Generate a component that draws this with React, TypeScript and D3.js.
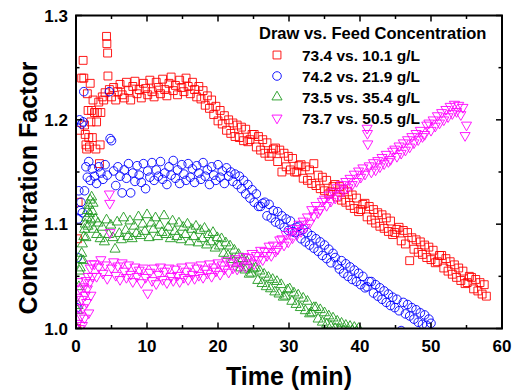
import React from 'react';
import * as d3 from 'd3';

// concentration factor vs time
type Pt = [number, number];

const X_TICKS = [0, 10, 20, 30, 40, 50, 60];
const Y_TICKS = [1.0, 1.1, 1.2, 1.3];
const LEGEND_TITLE = 'Draw vs. Feed Concentration';
const LABELS = ['73.4 vs. 10.1 g/L', '74.2 vs. 21.9 g/L', '73.5 vs. 35.4 g/L', '73.7 vs. 50.5 g/L'];

const red: Pt[] = [
  [0.1,1.0],[0.2,1.086],[0.3,1.121],[0.5,1.19],[0.8,1.24],[1.0,1.257],[1.1,1.24],[1.2,1.195],[1.3,1.186],[1.4,1.176],
  [1.5,1.172],[1.6,1.225],[1.7,1.209],[1.8,1.183],[1.9,1.174],[2.0,1.235],[2.1,1.198],[2.2,1.209],[2.3,1.183],[2.4,1.219],
  [2.6,1.207],[2.8,1.172],[2.9,1.198],[3.0,1.207],[3.2,1.217],[3.3,1.158],[3.4,1.176],[3.5,1.207],[3.7,1.222],[3.9,1.219],
  [4.1,1.226],[4.3,1.28],[4.35,1.273],[4.45,1.264],[4.5,1.242],[4.7,1.229],
  [5.0,1.222],[5.3,1.231],[5.6,1.219],[5.9,1.227],[6.2,1.234],[6.5,1.224],[6.8,1.221],[7.1,1.236],[7.4,1.228],[7.7,1.219],
  [8.0,1.232],[8.3,1.237],[8.6,1.225],[8.9,1.229],[9.2,1.221],[9.5,1.235],[9.8,1.23],[10.1,1.224],[10.4,1.238],[10.7,1.227],
  [11.0,1.222],[11.3,1.236],[11.6,1.231],[11.9,1.225],[12.2,1.239],[12.5,1.229],[12.8,1.223],[13.1,1.235],[13.4,1.241],[13.7,1.228],
  [14.0,1.233],[14.3,1.224],[14.6,1.238],[14.9,1.231],[15.2,1.227],[15.5,1.24],[15.8,1.232],[16.1,1.225],[16.4,1.236],[16.7,1.229],
  [17.0,1.222],[17.3,1.232],[17.6,1.22],[17.9,1.228],[18.2,1.214],[18.5,1.223],[18.8,1.211],[19.1,1.219],[19.4,1.205],[19.7,1.213],
  [20.0,1.199],[20.3,1.209],[20.6,1.196],[20.9,1.204],[21.2,1.19],[21.5,1.2],[21.8,1.187],[22.1,1.197],[22.4,1.184],[22.7,1.195],
  [23.0,1.183],[23.3,1.193],[23.6,1.18],[23.9,1.191],[24.2,1.179],[24.5,1.181],[24.8,1.186],[25.1,1.186],[25.4,1.174],[25.7,1.184],
  [26.0,1.171],[26.3,1.181],[26.6,1.168],[26.9,1.178],[27.2,1.165],[27.5,1.168],[27.8,1.172],[28.1,1.173],[28.4,1.16],[28.7,1.171],
  [29.0,1.15],[29.3,1.168],[29.6,1.155],[29.9,1.165],[30.2,1.152],[30.5,1.163],[30.8,1.15],[31.1,1.15],[31.4,1.156],[31.7,1.157],
  [32.0,1.144],[32.3,1.155],[32.6,1.142],[32.9,1.152],[33.2,1.139],[33.5,1.158],[33.8,1.137],[34.1,1.147],[34.4,1.134],[34.7,1.145],
  [35.0,1.132],[35.3,1.142],[35.6,1.129],[35.9,1.131],[36.2,1.136],[36.5,1.138],[36.8,1.126],[37.1,1.136],[37.4,1.123],[37.7,1.133],
  [38.0,1.121],[38.3,1.131],[38.6,1.118],[38.9,1.128],[39.2,1.115],[39.5,1.125],[39.8,1.112],[40.1,1.114],[40.4,1.119],[40.7,1.12],
  [41.0,1.107],[41.3,1.117],[41.6,1.104],[41.9,1.114],[42.2,1.101],[42.5,1.111],[42.8,1.098],[43.1,1.109],[43.4,1.096],[43.7,1.106],
  [44.0,1.093],[44.3,1.103],[44.6,1.09],[44.9,1.092],[45.2,1.095],[45.5,1.097],[45.8,1.084],[46.1,1.094],[46.4,1.081],[46.7,1.092],
  [47.0,1.065],[47.3,1.087],[47.6,1.076],[47.9,1.085],[48.2,1.073],[48.5,1.083],[48.8,1.071],[49.1,1.08],[49.4,1.068],[49.7,1.078],
  [50.0,1.066],[50.3,1.075],[50.6,1.063],[50.9,1.064],[51.2,1.07],[51.5,1.07],[51.8,1.058],[52.1,1.067],[52.4,1.055],[52.7,1.064],
  [53.0,1.052],[53.3,1.061],[53.6,1.049],[53.9,1.058],[54.2,1.046],[54.5,1.055],[54.8,1.043],[55.1,1.044],[55.4,1.05],[55.7,1.049],
  [56.0,1.038],[56.3,1.047],[56.6,1.036],[56.9,1.044],[57.2,1.033],[57.5,1.042],[57.8,1.031],
];

const blue: Pt[] = [
  [0.1,1.02],[0.2,1.068],[0.3,1.105],[0.4,1.132],[0.5,1.2],[0.6,1.113],[0.7,1.121],[0.8,1.196],[0.9,1.111],[1.0,1.198],
  [1.1,1.227],[1.2,1.132],[1.4,1.155],[1.6,1.145],[1.8,1.16],
  [2.0,1.142],[2.3,1.153],[2.6,1.146],[2.9,1.139],[3.2,1.155],[3.5,1.149],[3.8,1.143],[4.1,1.157],[4.4,1.147],[4.7,1.227],
  [4.8,1.182],[5.0,1.18],[5.3,1.151],[5.6,1.137],[5.9,1.155],[6.2,1.146],[6.5,1.13],[6.8,1.152],[7.1,1.144],[7.4,1.158],
  [7.7,1.13],[8.0,1.149],[8.3,1.141],[8.6,1.156],[8.9,1.147],[9.2,1.14],[9.5,1.158],[9.8,1.134],[10.1,1.151],[10.4,1.145],
  [10.7,1.159],[11.0,1.142],[11.3,1.152],[11.6,1.146],[11.9,1.16],[12.2,1.143],[12.5,1.149],[12.8,1.138],[13.1,1.155],[13.4,1.147],
  [13.7,1.161],[14.0,1.144],[14.3,1.152],[14.6,1.139],[14.9,1.157],[15.2,1.148],[15.5,1.142],[15.8,1.158],[16.1,1.145],[16.4,1.153],
  [16.7,1.14],[17.0,1.156],[17.3,1.149],[17.6,1.143],[17.9,1.159],[18.2,1.146],[18.5,1.152],[18.8,1.138],[19.1,1.155],[19.4,1.147],
  [19.7,1.142],[20.0,1.157],[20.3,1.145],[20.6,1.151],[20.9,1.139],[21.2,1.154],[21.5,1.146],[21.8,1.15],[22.1,1.141],[22.4,1.148],
  [22.7,1.138],[23.0,1.146],[23.3,1.134],[23.6,1.142],[23.9,1.129],[24.2,1.138],[24.5,1.125],[24.8,1.133],[25.1,1.121],[25.4,1.129],
  [25.7,1.117],[26.0,1.117],[26.3,1.12],[26.6,1.121],[26.9,1.108],[27.2,1.119],[27.5,1.106],[27.8,1.113],[28.1,1.102],[28.4,1.112],
  [28.7,1.1],[29.0,1.108],[29.3,1.097],[29.6,1.105],[29.9,1.094],[30.2,1.103],[30.5,1.093],[30.8,1.092],[31.1,1.097],[31.4,1.098],
  [31.7,1.086],[32.0,1.095],[32.3,1.083],[32.6,1.092],[32.9,1.08],[33.2,1.089],[33.5,1.077],[33.8,1.086],[34.1,1.074],[34.4,1.083],
  [34.7,1.07],[35.0,1.08],[35.3,1.067],[35.6,1.076],[35.9,1.063],[36.2,1.072],[36.5,1.068],[36.8,1.061],[37.1,1.057],[37.4,1.065],
  [37.7,1.053],[38.0,1.062],[38.3,1.05],[38.6,1.059],[38.9,1.047],[39.2,1.056],[39.5,1.045],[39.8,1.053],[40.1,1.042],[40.4,1.05],
  [40.7,1.039],[41.0,1.04],[41.3,1.045],[41.6,1.045],[41.9,1.034],[42.2,1.042],[42.5,1.031],[42.8,1.039],[43.1,1.028],[43.4,1.036],
  [43.7,1.025],[44.0,1.033],[44.3,1.022],[44.6,1.03],[44.9,1.02],[45.2,1.028],[45.5,1.017],[45.8,0.998],[46.1,1.025],[46.4,1.014],
  [46.7,1.023],[47.0,1.012],[47.3,1.02],[47.6,1.009],[47.9,1.018],[48.2,1.006],[48.5,1.015],[48.8,1.004],[49.1,1.013],[49.4,1.003],
  [49.7,1.009],[50.0,1.005],
];

const green: Pt[] = [
  [0.1,1.0],[0.2,1.017],[0.3,1.022],[0.4,1.04],[0.5,1.055],[0.6,1.058],[0.7,1.066],[0.8,1.072],[0.9,1.081],[1.0,1.065],
  [1.1,1.088],[1.2,1.095],[1.3,1.1],[1.4,1.087],[1.5,1.106],[1.6,1.113],[1.7,1.098],[1.8,1.118],[1.9,1.11],[2.0,1.123],
  [2.1,1.104],[2.2,1.126],[2.3,1.112],[2.4,1.12],[2.5,1.095],[2.7,1.105],[2.9,1.09],
  [3.1,1.101],[3.4,1.086],[3.7,1.097],[4.0,1.083],[4.3,1.104],[4.6,1.09],[4.9,1.099],[5.2,1.087],[5.5,1.076],[5.8,1.102],
  [6.1,1.091],[6.4,1.085],[6.7,1.106],[7.0,1.094],[7.3,1.088],[7.6,1.103],[7.9,1.086],[8.2,1.098],[8.5,1.091],[8.8,1.107],
  [9.1,1.089],[9.4,1.1],[9.7,1.093],[10.0,1.109],[10.3,1.087],[10.6,1.101],[10.9,1.095],[11.2,1.106],[11.5,1.088],[11.8,1.099],
  [12.1,1.092],[12.4,1.108],[12.7,1.09],[13.0,1.097],[13.3,1.086],[13.6,1.103],[13.9,1.093],[14.2,1.088],[14.5,1.101],[14.8,1.085],
  [15.1,1.097],[15.4,1.09],[15.7,1.1],[16.0,1.083],[16.3,1.095],[16.6,1.088],[16.9,1.098],[17.2,1.082],[17.5,1.094],[17.8,1.086],
  [18.1,1.096],[18.4,1.08],[18.7,1.09],[19.0,1.083],[19.3,1.092],[19.6,1.077],[19.9,1.087],[20.2,1.079],[20.5,1.086],[20.8,1.072],
  [21.1,1.082],[21.4,1.07],[21.7,1.079],[22.0,1.066],[22.3,1.075],[22.6,1.062],[22.9,1.071],[23.2,1.058],[23.5,1.067],[23.8,1.056],
  [24.1,1.064],[24.4,1.052],[24.7,1.053],[25.0,1.057],[25.3,1.058],[25.6,1.046],[25.9,1.055],[26.2,1.043],[26.5,1.052],[26.8,1.04],
  [27.1,1.049],[27.4,1.038],[27.7,1.047],[28.0,1.035],[28.3,1.045],[28.6,1.033],[28.9,1.042],[29.2,1.03],[29.5,1.031],[29.8,1.037],
  [30.1,1.038],[30.4,1.026],[30.7,1.034],[31.0,1.023],[31.3,1.032],[31.6,1.02],[32.0,1.029],[32.3,1.017],[32.6,1.026],[32.9,1.014],
  [33.2,1.015],[33.5,1.02],[33.8,1.02],[34.1,1.009],[34.4,1.018],[34.7,1.006],[35.0,1.015],[35.3,1.004],[35.6,1.012],[35.9,1.002],
  [36.2,1.01],[36.5,1.0],[36.8,1.007],[37.1,0.999],[37.4,1.005],[37.7,0.998],[38.0,1.003],[38.3,0.997],[38.6,1.002],[38.9,0.998],
  [39.2,1.001],[39.5,0.997],[39.8,1.0],
];

const magenta: Pt[] = [
  [0.1,1.03],[0.2,1.005],[0.3,1.045],[0.4,1.02],[0.5,1.0],[0.6,1.038],[0.7,1.012],[0.8,1.028],[0.9,1.003],[1.0,1.02],
  [1.1,1.04],[1.2,1.01],[1.3,1.032],[1.4,1.046],[1.5,1.025],[1.6,1.038],[1.7,1.05],[1.8,1.015],[1.9,1.044],[2.0,1.058],
  [2.1,1.032],[2.2,1.062],[2.3,1.05],[2.6,1.062],[2.9,1.05],[3.2,1.059],[3.5,1.066],[3.8,1.053],[4.1,1.061],[4.4,1.048],
  [4.7,1.129],[4.75,1.12],[4.8,1.092],[5.0,1.058],[5.3,1.064],[5.6,1.051],[5.9,1.06],[6.2,1.047],[6.5,1.063],[6.8,1.055],
  [7.1,1.049],[7.4,1.061],[7.7,1.052],[8.0,1.045],[8.3,1.059],[8.6,1.05],[8.9,1.056],[9.2,1.044],[9.5,1.058],[9.8,1.049],
  [10.1,1.034],[10.4,1.054],[10.7,1.046],[11.0,1.058],[11.3,1.043],[11.6,1.052],[11.9,1.059],[12.2,1.047],[12.5,1.055],[12.8,1.044],
  [13.1,1.058],[13.4,1.05],[13.7,1.046],[14.0,1.057],[14.3,1.051],[14.6,1.045],[14.9,1.059],[15.2,1.049],[15.5,1.055],[15.8,1.047],
  [16.1,1.06],[16.4,1.052],[16.7,1.048],[17.0,1.058],[17.3,1.051],[17.6,1.061],[17.9,1.049],[18.2,1.057],[18.5,1.053],[18.8,1.062],
  [19.1,1.05],[19.4,1.059],[19.7,1.055],[20.0,1.063],[20.3,1.052],[20.6,1.061],[20.9,1.057],[21.2,1.065],[21.5,1.054],[21.8,1.063],
  [22.1,1.058],[22.4,1.067],[22.7,1.057],[23.0,1.065],[23.3,1.06],[23.6,1.069],[23.9,1.059],[24.2,1.068],[24.5,1.063],[24.8,1.072],
  [25.1,1.062],[25.4,1.07],[25.7,1.066],[26.0,1.075],[26.3,1.066],[26.6,1.074],[26.9,1.07],[27.2,1.079],[27.5,1.07],[27.8,1.08],
  [28.1,1.074],[28.4,1.076],[28.7,1.085],[29.0,1.086],[29.3,1.08],[29.6,1.09],[29.9,1.083],[30.2,1.093],[30.5,1.087],[30.8,1.096],
  [31.1,1.09],[31.4,1.1],[31.7,1.093],[32.0,1.103],[32.3,1.097],[32.6,1.107],[32.9,1.101],[33.2,1.114],[33.5,1.108],[33.8,1.118],
  [34.1,1.111],[34.4,1.114],[34.7,1.122],[35.0,1.124],[35.3,1.118],[35.6,1.128],[35.9,1.122],[36.2,1.131],[36.5,1.125],[36.8,1.135],
  [37.1,1.128],[37.4,1.138],[37.7,1.132],[38.0,1.141],[38.3,1.135],[38.6,1.144],[38.9,1.138],[39.2,1.148],[39.5,1.141],[39.8,1.151],
  [40.1,1.145],[40.4,1.154],[40.7,1.148],[41.0,1.192],[41.05,1.187],[41.1,1.177],[41.3,1.156],[41.6,1.15],[41.9,1.159],[42.2,1.152],
  [42.5,1.161],[42.8,1.155],[43.1,1.164],[43.4,1.158],[43.7,1.167],[44.0,1.16],[44.3,1.162],[44.6,1.17],[44.9,1.172],[45.2,1.165],
  [45.5,1.175],[45.8,1.168],[46.1,1.178],[46.4,1.171],[46.7,1.181],[47.0,1.174],[47.3,1.184],[47.6,1.178],[47.9,1.187],[48.2,1.181],
  [48.5,1.19],[48.8,1.184],[49.1,1.186],[49.4,1.195],[49.7,1.197],[50.0,1.19],[50.3,1.2],[50.6,1.194],[50.9,1.204],[51.2,1.197],
  [51.5,1.207],[51.8,1.2],[52.1,1.21],[52.4,1.203],[52.7,1.213],[53.0,1.206],[53.3,1.215],[53.6,1.208],[53.9,1.214],[54.2,1.205],
  [54.5,1.212],[54.8,1.185],[55.0,1.195],
];

const SERIES = [
  { label: LABELS[0], color: '#ff0000', shape: 'square', data: red },
  { label: LABELS[1], color: '#0000ff', shape: 'circle', data: blue },
  { label: LABELS[2], color: '#1f9a1f', shape: 'up', data: green },
  { label: LABELS[3], color: '#ff00ff', shape: 'down', data: magenta },
];

const W = 512;
const H = 392;
const PLOT = { left: 76, right: 502, top: 15.5, bottom: 328.5 };
const FONT = '"Liberation Sans", Arial, sans-serif';

const x = d3.scaleLinear().domain([0, 60]).range([PLOT.left, PLOT.right]);
const y = d3.scaleLinear().domain([1.0, 1.3]).range([PLOT.bottom, PLOT.top]);

const SYM: Record<string, string> = {
  square: d3.symbol(d3.symbolSquare, 62)() as string,
  circle: d3.symbol(d3.symbolCircle, 58)() as string,
  up: d3.symbol(d3.symbolTriangle, 44)() as string,
  down: d3.symbol(d3.symbolTriangle, 44)() as string,
};

function Marker({ shape, color, cx, cy }: { shape: string; color: string; cx: number; cy: number }) {
  const rot = shape === 'down' ? ' rotate(180)' : '';
  return (
    <path d={SYM[shape]} transform={`translate(${cx},${cy})${rot}`} fill="none" stroke={color} strokeWidth={0.9} />
  );
}

export default function App() {
  const xMinor = d3.range(5, 60, 10);
  const yMinor = [1.05, 1.15, 1.25];
  const fmt = d3.format('.1f');

  return (
    <svg width={W} height={H} style={{ position: 'absolute', left: 0, top: 0, background: '#fff' }} fontFamily={FONT}>
      <defs>
        <clipPath id="plot-clip">
          <rect x={PLOT.left} y={PLOT.top} width={PLOT.right - PLOT.left} height={PLOT.bottom - PLOT.top} />
        </clipPath>
      </defs>

      <g clipPath="url(#plot-clip)">
        {SERIES.map(s => (
          <g key={s.label}>
            {s.data.map((d, i) => (
              <Marker key={i} shape={s.shape} color={s.color} cx={x(d[0])} cy={y(d[1])} />
            ))}
          </g>
        ))}
      </g>

      {/* ticks, inward on all four sides */}
      <g stroke="#000" strokeWidth={1.5}>
        {X_TICKS.map(t => (
          <g key={'xt' + t}>
            <line x1={x(t)} x2={x(t)} y1={PLOT.bottom} y2={PLOT.bottom - 6} />
            <line x1={x(t)} x2={x(t)} y1={PLOT.top} y2={PLOT.top + 6} />
          </g>
        ))}
        {xMinor.map(t => (
          <g key={'xm' + t}>
            <line x1={x(t)} x2={x(t)} y1={PLOT.bottom} y2={PLOT.bottom - 3.5} />
            <line x1={x(t)} x2={x(t)} y1={PLOT.top} y2={PLOT.top + 3.5} />
          </g>
        ))}
        {Y_TICKS.map(t => (
          <g key={'yt' + t}>
            <line x1={PLOT.left} x2={PLOT.left + 6} y1={y(t)} y2={y(t)} />
            <line x1={PLOT.right} x2={PLOT.right - 6} y1={y(t)} y2={y(t)} />
          </g>
        ))}
        {yMinor.map(t => (
          <g key={'ym' + t}>
            <line x1={PLOT.left} x2={PLOT.left + 3.5} y1={y(t)} y2={y(t)} />
            <line x1={PLOT.right} x2={PLOT.right - 3.5} y1={y(t)} y2={y(t)} />
          </g>
        ))}
      </g>
      <rect x={PLOT.left} y={PLOT.top} width={PLOT.right - PLOT.left} height={PLOT.bottom - PLOT.top}
        fill="none" stroke="#000" strokeWidth={2} />

      {/* tick labels */}
      <g fontSize={17} fontWeight="bold" fill="#000">
        {X_TICKS.map(t => (
          <text key={'xl' + t} x={x(t)} y={352} textAnchor="middle">{t}</text>
        ))}
        {Y_TICKS.map(t => (
          <text key={'yl' + t} x={68} y={y(t) + 6} textAnchor="end">{fmt(t)}</text>
        ))}
      </g>

      {/* axis titles */}
      <text x={(PLOT.left + PLOT.right) / 2} y={385} textAnchor="middle" fontSize={25} fontWeight="bold">Time (min)</text>
      <text transform="translate(37,188) rotate(-90)" textAnchor="middle" fontSize={25} fontWeight="bold">Concentration Factor</text>

      {/* legend, drawn over the markers */}
      <text x={259} y={38.5} fontSize={16.5} fontWeight="bold">{LEGEND_TITLE}</text>
      {SERIES.map((s, i) => {
        const ly = 55 + i * 21;
        return (
          <g key={'lg' + i}>
            <Marker shape={s.shape} color={s.color} cx={277} cy={ly} />
            <text x={302} y={ly + 5.5} fontSize={15.5} fontWeight="bold">{s.label}</text>
          </g>
        );
      })}
    </svg>
  );
}
